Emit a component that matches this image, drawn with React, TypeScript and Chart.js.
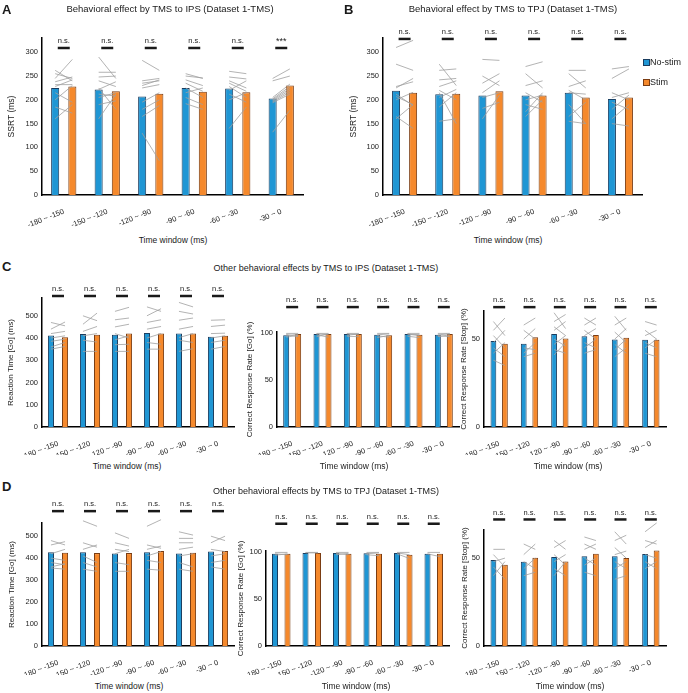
import React, { useEffect, useRef } from 'react';
import { Chart, registerables } from 'chart.js';

Chart.register(...registerables);

const FONT = "'Liberation Sans', Arial, Helvetica, sans-serif";
Chart.defaults.font.family = FONT;

const BLUE = '#1f96d4';
const BLUE_EDGE = '#1a3c5e';
const ORANGE = '#f5892c';
const ORANGE_EDGE = '#7a3c12';

// ---------- categories & tick labels ----------
const windowLabels = ['-180 ~ -150', '-150 ~ -120', '-120 ~ -90', '-90 ~ -60', '-60 ~ -30', '-30 ~ 0'];
const seriesNames = ['No-stim', 'Stim'];
const ssrtTicks = [0, 50, 100, 150, 200, 250, 300];
const rtTicks = [0, 100, 200, 300, 400, 500];
const goRateTicks = [0, 50, 100];
const stopRateTicks = [0, 50];

// ---------- A: SSRT, TMS to IPS ----------
const ipsSsrtNoStim = [225, 222, 207, 225, 224, 203];
const ipsSsrtStim = [228, 218, 213, 217, 216, 230];
const ipsSsrtSig = ['n.s.', 'n.s.', 'n.s.', 'n.s.', 'n.s.', '***'];
const ipsSsrtSubjNoStim = [
  [262, 255, 245, 238, 232, 228, 215, 200, 185, 160],
  [290, 258, 248, 240, 222, 212, 205, 190, 160, 225],
  [283, 240, 235, 230, 225, 195, 180, 165, 130],
  [255, 250, 242, 235, 225, 215, 205, 192],
  [260, 248, 240, 235, 228, 220, 212, 200, 140],
  [245, 240, 205, 202, 200, 198, 196, 194, 132],
];
const ipsSsrtSubjStim = [
  [240, 245, 285, 248, 232, 242, 195, 230, 172, 190],
  [245, 258, 250, 228, 238, 208, 215, 198, 212, 180],
  [262, 245, 240, 242, 232, 215, 200, 188, 72],
  [245, 246, 230, 218, 205, 225, 190, 180],
  [255, 244, 225, 218, 205, 240, 195, 215, 185],
  [265, 250, 233, 228, 224, 220, 216, 212, 178],
];

// ---------- B: SSRT, TMS to TPJ ----------
const tpjSsrtNoStim = [219, 212, 209, 209, 215, 202];
const tpjSsrtStim = [215, 213, 218, 209, 205, 205];
const tpjSsrtSig = ['n.s.', 'n.s.', 'n.s.', 'n.s.', 'n.s.', 'n.s.'];
const tpjSsrtSubjNoStim = [
  [310, 275, 228, 225, 212, 207, 200, 165, 160],
  [275, 262, 242, 228, 220, 205, 185, 155, 215],
  [285, 250, 235, 215, 205, 182, 160],
  [270, 255, 230, 215, 200, 190, 175, 165],
  [262, 255, 228, 220, 215, 190, 165, 155],
  [265, 245, 215, 205, 195, 180, 160, 150],
];
const tpjSsrtSubjStim = [
  [325, 262, 238, 245, 188, 190, 216, 140, 190],
  [230, 265, 245, 240, 200, 222, 215, 160, 150],
  [283, 230, 255, 240, 215, 195, 210],
  [280, 225, 240, 195, 210, 180, 215, 200],
  [262, 225, 240, 200, 212, 150, 195, 150],
  [270, 265, 200, 215, 180, 210, 190, 145],
];

// ---------- C: other effects, TMS to IPS ----------
const ipsRtNoStim = [411, 418, 415, 423, 420, 406];
const ipsRtStim = [404, 415, 420, 420, 420, 410];
const ipsRtSubjNoStim = [
  [470, 440, 420, 400, 385, 360, 350],
  [500, 462, 430, 410, 390, 340],
  [520, 482, 450, 420, 392, 370, 340],
  [540, 500, 470, 440, 400, 380, 350],
  [560, 520, 480, 440, 402, 390, 340],
  [480, 452, 420, 400, 380, 350],
];
const ipsRtSubjStim = [
  [455, 472, 430, 410, 395, 380, 362],
  [478, 512, 452, 420, 382, 340],
  [538, 490, 462, 400, 410, 372, 340],
  [520, 532, 482, 452, 420, 372, 350],
  [540, 508, 490, 452, 420, 380, 352],
  [482, 458, 422, 410, 390, 362],
];

const ipsGoNoStim = [97.5, 99, 99, 98, 99, 98];
const ipsGoStim = [99, 99, 99, 97.5, 98, 99];
const ipsGoSubjNoStim = [
  [99.5, 98.5, 97, 95.5],
  [99.5, 99, 98, 96],
  [99.5, 99, 97.5, 96.5],
  [99.5, 98, 97, 95],
  [99.5, 99, 98, 96.5],
  [99.5, 98, 97, 96],
];
const ipsGoSubjStim = [
  [99.5, 96, 98.5, 97.5],
  [99.5, 98, 95.5, 99],
  [99.5, 98, 99, 96],
  [99.5, 99, 95.5, 97.5],
  [99.5, 97, 98.5, 95],
  [99.5, 99, 96, 98],
];

const ipsStopNoStim = [48.9, 47.3, 52.9, 51.7, 49.8, 49.6];
const ipsStopStim = [47.3, 51.1, 50.4, 52.3, 50.8, 49.6];
const ipsStopSubjNoStim = [
  [60, 55, 52, 48, 45, 42, 38],
  [58, 55, 50, 45, 42, 40],
  [65, 60, 57, 55, 50, 47, 44, 41],
  [62, 58, 55, 52, 48, 45, 42],
  [63, 58, 54, 50, 47, 44, 40],
  [60, 55, 52, 48, 45, 42],
];
const ipsStopSubjStim = [
  [52, 62, 45, 55, 40, 48, 35],
  [62, 50, 56, 44, 48, 42],
  [56, 64, 52, 60, 46, 52, 42, 48],
  [58, 62, 50, 56, 45, 50, 44],
  [55, 62, 48, 56, 42, 50, 45],
  [58, 50, 55, 45, 50, 40],
];

// ---------- D: other effects, TMS to TPJ ----------
const tpjRtNoStim = [427, 427, 421, 427, 421, 430];
const tpjRtStim = [424, 423, 423, 432, 424, 432];
const tpjRtSubjNoStim = [
  [480, 460, 420, 400, 380, 360, 355],
  [570, 470, 440, 410, 380, 350],
  [515, 470, 440, 420, 380, 340],
  [545, 460, 440, 410, 390, 350],
  [520, 490, 470, 440, 410, 380, 350],
  [500, 470, 440, 410, 380, 360],
];
const tpjRtSubjStim = [
  [460, 475, 440, 390, 370, 375, 350],
  [545, 450, 460, 380, 360, 340],
  [490, 455, 430, 440, 370, 340],
  [575, 445, 455, 430, 380, 345],
  [505, 490, 470, 450, 420, 360, 340],
  [480, 500, 430, 420, 390, 350],
];

const tpjGoNoStim = [98, 99, 99, 98.5, 99, 98];
const tpjGoStim = [98, 99, 98, 98, 97, 98];
const tpjGoSubjNoStim = [
  [99.5, 98, 96.5],
  [99.5, 99],
  [99.5, 98.5, 97],
  [99.5, 98, 97],
  [99.5, 99, 98],
  [99.5, 98],
];
const tpjGoSubjStim = [
  [99.5, 97, 98],
  [99.5, 99],
  [99.5, 97, 98.5],
  [99.5, 99, 96],
  [99.5, 97, 93],
  [99.5, 95],
];

const tpjStopNoStim = [48.9, 47.9, 50.6, 51.1, 51.1, 52.3];
const tpjStopStim = [46.2, 50.2, 48.1, 52.5, 50.0, 54.4];
const tpjStopSubjNoStim = [
  [55, 52, 48, 45, 40],
  [58, 52, 48, 44, 40],
  [60, 56, 52, 48, 44, 40],
  [62, 58, 55, 50, 46, 42],
  [65, 60, 56, 52, 48, 44, 38],
  [65, 60, 56, 52, 48, 44],
];
const tpjStopSubjStim = [
  [55, 45, 50, 38, 48],
  [55, 58, 44, 50, 42],
  [55, 60, 46, 52, 40, 48],
  [60, 55, 58, 46, 50, 40],
  [58, 63, 50, 54, 44, 48, 40],
  [70, 58, 60, 50, 44, 48],
];

const allNs = ['n.s.', 'n.s.', 'n.s.', 'n.s.', 'n.s.', 'n.s.'];

type Spec = {
  key: string;
  left: number; top: number; width: number; height: number;
  padT: number; padR: number; yWidth: number; xHeight: number;
  yMax: number; yTicks: number[]; yTitle: string; yTitleSize: number; yTitlePad: number;
  noStim: number[]; stim: number[]; subjNo: number[][]; subjStim: number[][];
  sig: string[]; sigValue: number; catPct: number; barPct: number;
};

const specs: Spec[] = [
  { key: 'A', left: 0, top: 0, width: 344, height: 228, padT: 38, padR: 41, yWidth: 42, xHeight: 33,
    yMax: 330, yTicks: ssrtTicks, yTitle: 'SSRT (ms)', yTitleSize: 8.5, yTitlePad: 7,
    noStim: ipsSsrtNoStim, stim: ipsSsrtStim, subjNo: ipsSsrtSubjNoStim, subjStim: ipsSsrtSubjStim,
    sig: ipsSsrtSig, sigValue: 309, catPct: 0.79, barPct: 0.47 },
  { key: 'B', left: 344, top: 0, width: 344, height: 228, padT: 38, padR: 46, yWidth: 39, xHeight: 33,
    yMax: 330, yTicks: ssrtTicks, yTitle: 'SSRT (ms)', yTitleSize: 8.5, yTitlePad: 5,
    noStim: tpjSsrtNoStim, stim: tpjSsrtStim, subjNo: tpjSsrtSubjNoStim, subjStim: tpjSsrtSubjStim,
    sig: tpjSsrtSig, sigValue: 328, catPct: 0.79, barPct: 0.47 },
  { key: 'C1', left: 0, top: 280, width: 240, height: 175, padT: 18, padR: 6, yWidth: 42, xHeight: 28,
    yMax: 580, yTicks: rtTicks, yTitle: 'Reaction Time [Go] (ms)', yTitleSize: 8, yTitlePad: 6,
    noStim: ipsRtNoStim, stim: ipsRtStim, subjNo: ipsRtSubjNoStim, subjStim: ipsRtSubjStim,
    sig: allNs, sigValue: 589, catPct: 0.88, barPct: 0.43 },
  { key: 'C2', left: 240, top: 280, width: 222, height: 175, padT: 52, padR: 3, yWidth: 37, xHeight: 28,
    yMax: 101, yTicks: goRateTicks, yTitle: 'Correct Response Rate [Go] (%)', yTitleSize: 8, yTitlePad: 5,
    noStim: ipsGoNoStim, stim: ipsGoStim, subjNo: ipsGoSubjNoStim, subjStim: ipsGoSubjStim,
    sig: allNs, sigValue: 127.5, catPct: 0.79, barPct: 0.5 },
  { key: 'C3', left: 450, top: 280, width: 238, height: 175, padT: 31, padR: 22, yWidth: 34, xHeight: 28,
    yMax: 66, yTicks: stopRateTicks, yTitle: 'Correct Response Rate [Stop] (%)', yTitleSize: 8, yTitlePad: 9,
    noStim: ipsStopNoStim, stim: ipsStopStim, subjNo: ipsStopSubjNoStim, subjStim: ipsStopSubjStim,
    sig: allNs, sigValue: 68.2, catPct: 0.76, barPct: 0.5 },
  { key: 'D1', left: 0, top: 500, width: 240, height: 175, padT: 23, padR: 6, yWidth: 42, xHeight: 29,
    yMax: 560, yTicks: rtTicks, yTitle: 'Reaction Time [Go] (ms)', yTitleSize: 8, yTitlePad: 7,
    noStim: tpjRtNoStim, stim: tpjRtStim, subjNo: tpjRtSubjNoStim, subjStim: tpjRtSubjStim,
    sig: allNs, sigValue: 614, catPct: 0.88, barPct: 0.43 },
  { key: 'D2', left: 231, top: 500, width: 223, height: 175, padT: 51, padR: 5, yWidth: 35, xHeight: 29,
    yMax: 101, yTicks: goRateTicks, yTitle: 'Correct Response Rate [Go] (%)', yTitleSize: 8, yTitlePad: 5,
    noStim: tpjGoNoStim, stim: tpjGoStim, subjNo: tpjGoSubjNoStim, subjStim: tpjGoSubjStim,
    sig: allNs, sigValue: 130, catPct: 0.82, barPct: 0.48 },
  { key: 'D3', left: 450, top: 500, width: 238, height: 175, padT: 30, padR: 22, yWidth: 34, xHeight: 29,
    yMax: 66, yTicks: stopRateTicks, yTitle: 'Correct Response Rate [Stop] (%)', yTitleSize: 8, yTitlePad: 10,
    noStim: tpjStopNoStim, stim: tpjStopStim, subjNo: tpjStopSubjNoStim, subjStim: tpjStopSubjStim,
    sig: allNs, sigValue: 72, catPct: 0.76, barPct: 0.5 },
];

function makeOverlay(spec: Spec) {
  return {
    id: 'overlay-' + spec.key,
    afterDatasetsDraw(chart: any) {
      const ctx = chart.ctx as CanvasRenderingContext2D;
      const m0 = chart.getDatasetMeta(0);
      const m1 = chart.getDatasetMeta(1);
      const ys = chart.scales.y;
      ctx.save();
      ctx.strokeStyle = '#a0a0a0';
      ctx.lineWidth = 0.8;
      spec.subjNo.forEach((grp, i) => {
        const x0 = m0.data[i].x;
        const x1 = m1.data[i].x;
        grp.forEach((v, k) => {
          ctx.beginPath();
          ctx.moveTo(x0, ys.getPixelForValue(v));
          ctx.lineTo(x1, ys.getPixelForValue(spec.subjStim[i][k]));
          ctx.stroke();
        });
      });
      ctx.strokeStyle = '#1a1a1a';
      ctx.lineWidth = 2.5;
      ctx.fillStyle = '#222';
      ctx.textAlign = 'center';
      ctx.textBaseline = 'middle';
      spec.sig.forEach((s, i) => {
        const cx = (m0.data[i].x + m1.data[i].x) / 2;
        const py = ys.getPixelForValue(spec.sigValue);
        ctx.beginPath();
        ctx.moveTo(cx - 6, py);
        ctx.lineTo(cx + 6, py);
        ctx.stroke();
        ctx.font = (s === '***' ? '9px ' : '7.5px ') + FONT;
        ctx.fillText(s, cx, py - (s === '***' ? 6 : 7));
      });
      ctx.restore();
    },
  };
}

function BarPanel({ spec }: { spec: Spec }) {
  const ref = useRef<HTMLCanvasElement>(null);
  useEffect(() => {
    if (!ref.current) return;
    const chart = new Chart(ref.current, {
      type: 'bar',
      data: {
        labels: windowLabels,
        datasets: [
          { label: seriesNames[0], data: spec.noStim, backgroundColor: BLUE, borderColor: BLUE_EDGE, borderWidth: 1,
            categoryPercentage: spec.catPct, barPercentage: spec.barPct },
          { label: seriesNames[1], data: spec.stim, backgroundColor: ORANGE, borderColor: ORANGE_EDGE, borderWidth: 1,
            categoryPercentage: spec.catPct, barPercentage: spec.barPct },
        ],
      },
      options: {
        animation: false,
        responsive: false,
        events: [],
        layout: { padding: { left: 0, right: spec.padR, top: spec.padT, bottom: 0 } },
        plugins: { legend: { display: false }, tooltip: { enabled: false }, title: { display: false } },
        scales: {
          x: {
            grid: { display: false },
            border: { display: true, color: '#000', width: 1.5 },
            ticks: { font: { size: 7.5 }, color: '#222', minRotation: 22, maxRotation: 22, autoSkip: false, padding: 4 },
            afterFit: (s: any) => { s.height = spec.xHeight; },
          },
          y: {
            min: 0,
            max: spec.yMax,
            grid: { display: false, drawTicks: false },
            border: { display: true, color: '#000', width: 1.5 },
            ticks: { font: { size: 7.5 }, color: '#222', padding: 4, autoSkip: false },
            afterBuildTicks: (s: any) => { s.ticks = spec.yTicks.map((v) => ({ value: v })); },
            title: { display: true, text: spec.yTitle, color: '#222', font: { size: spec.yTitleSize }, padding: { top: spec.yTitlePad, bottom: 0 } },
            afterFit: (s: any) => { s.width = spec.yWidth; },
          },
        },
      } as any,
      plugins: [makeOverlay(spec)],
    });
    return () => chart.destroy();
  }, [spec]);
  return (
    <canvas ref={ref} width={spec.width} height={spec.height}
      style={{ position: 'absolute', left: spec.left, top: spec.top, width: spec.width, height: spec.height }} />
  );
}

function Txt({ x, y, size, children, bold, align }: { x: number; y: number; size: number; children: React.ReactNode; bold?: boolean; align?: 'center' | 'left' }) {
  return (
    <div style={{
      position: 'absolute', left: x, top: y, fontSize: size, fontFamily: FONT, color: '#1a1a1a',
      fontWeight: bold ? 'bold' : 'normal', whiteSpace: 'nowrap', lineHeight: 1,
      transform: align === 'left' ? 'translate(0,-50%)' : 'translate(-50%,-50%)',
    }}>{children}</div>
  );
}

export default function App() {
  return (
    <div style={{ position: 'fixed', left: 0, top: 0, width: 688, height: 693, background: '#fff', overflow: 'hidden' }}>
      {specs.map((s) => <BarPanel key={s.key} spec={s} />)}

      <Txt x={2} y={9} size={13} bold align="left">A</Txt>
      <Txt x={170} y={9} size={9.5}>Behavioral effect by TMS to IPS (Dataset 1-TMS)</Txt>
      <Txt x={344} y={9} size={13} bold align="left">B</Txt>
      <Txt x={513} y={9} size={9.5}>Behavioral effect by TMS to TPJ (Dataset 1-TMS)</Txt>
      <Txt x={173} y={240} size={8.5}>Time window (ms)</Txt>
      <Txt x={508} y={240} size={8.5}>Time window (ms)</Txt>

      <div style={{ position: 'absolute', left: 643, top: 59, width: 5, height: 5, background: BLUE, border: '1px solid ' + BLUE_EDGE }} />
      <Txt x={650} y={62} size={9} align="left">{seriesNames[0]}</Txt>
      <div style={{ position: 'absolute', left: 643, top: 79, width: 5, height: 5, background: ORANGE, border: '1px solid ' + ORANGE_EDGE }} />
      <Txt x={650} y={82} size={9} align="left">{seriesNames[1]}</Txt>

      <Txt x={2} y={266} size={13} bold align="left">C</Txt>
      <Txt x={326} y={268} size={9}>Other behavioral effects by TMS to IPS (Dataset 1-TMS)</Txt>
      <Txt x={127} y={466} size={8.5}>Time window (ms)</Txt>
      <Txt x={354} y={466} size={8.5}>Time window (ms)</Txt>
      <Txt x={568} y={466} size={8.5}>Time window (ms)</Txt>

      <Txt x={2} y={486} size={13} bold align="left">D</Txt>
      <Txt x={326} y={491} size={9}>Other behavioral effects by TMS to TPJ (Dataset 1-TMS)</Txt>
      <Txt x={129} y={686} size={8.5}>Time window (ms)</Txt>
      <Txt x={356} y={686} size={8.5}>Time window (ms)</Txt>
      <Txt x={570} y={686} size={8.5}>Time window (ms)</Txt>
    </div>
  );
}
